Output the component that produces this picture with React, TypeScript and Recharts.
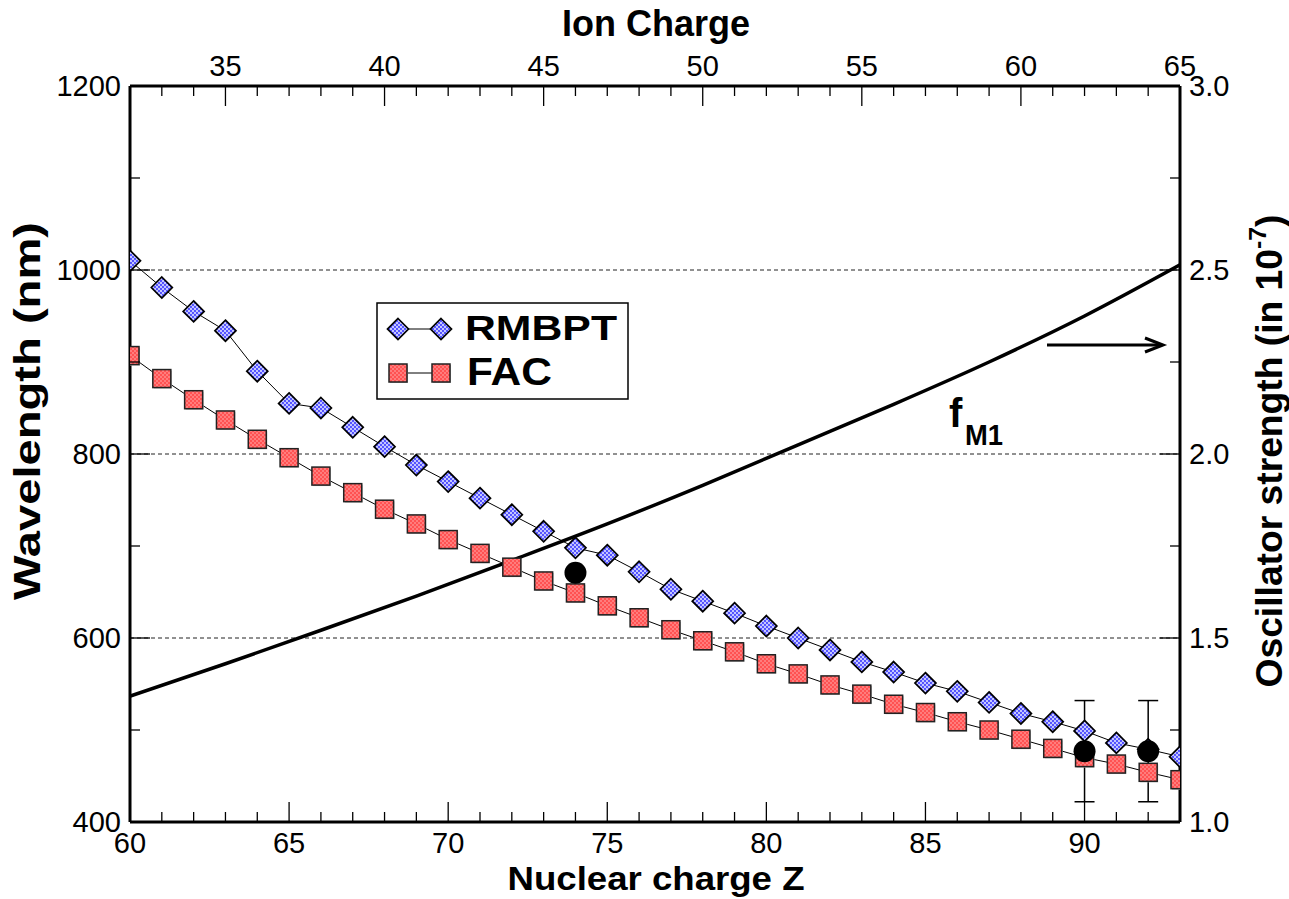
import React from 'react'
import { ComposedChart, Line, Scatter, XAxis, YAxis, ReferenceLine, ErrorBar } from 'recharts'

// nuclear charge Z for the two theory series
const zValues = [
  60, 61, 62, 63, 64, 65, 66, 67, 68, 69, 70, 71, 72, 73, 74, 75, 76,
  77, 78, 79, 80, 81, 82, 83, 84, 85, 86, 87, 88, 89, 90, 91, 92, 93,
]
// wavelength in nm
const rmbptNm = [
  1010, 981, 955, 934, 890, 855, 850, 829, 808, 788, 770, 752, 734, 716, 698, 690, 672,
  653, 640, 627, 613, 600, 587, 574, 563, 551, 542, 530, 518, 509, 499, 486, 479, 471,
]
const facNm = [
  907, 882, 859, 837, 816, 796, 776, 758, 740, 724, 707, 692, 677, 662, 649, 635, 622,
  609, 597, 585, 572, 561, 549, 539, 528, 519, 509, 500, 490, 480, 470, 463, 454, 446,
]
// oscillator strength f_M1 (in 1e-7), plotted against the top (ion charge) axis
const fIonCharge = [32, 35, 38, 41, 44, 47, 50, 53, 56, 59, 62, 65]
const fM1 = [1.342, 1.43, 1.521, 1.614, 1.711, 1.81, 1.915, 2.025, 2.135, 2.25, 2.375, 2.514]
// measurements
const expZ = [74, 90, 92]
const expNm = [671, 477, 477]
const expErr = [0, 55, 55]

const zTicks = [
  60, 61, 62, 63, 64, 65, 66, 67, 68, 69, 70, 71, 72, 73, 74, 75, 76,
  77, 78, 79, 80, 81, 82, 83, 84, 85, 86, 87, 88, 89, 90, 91, 92, 93,
]
const ionTicks = [
  32, 33, 34, 35, 36, 37, 38, 39, 40, 41, 42, 43, 44, 45, 46, 47, 48,
  49, 50, 51, 52, 53, 54, 55, 56, 57, 58, 59, 60, 61, 62, 63, 64, 65,
]
const nmTicks = [400, 500, 600, 700, 800, 900, 1000, 1100, 1200]
const fTicks = [1, 1.25, 1.5, 1.75, 2, 2.25, 2.5, 2.75, 3]
const gridNm = [600, 800, 1000]

const rmbptData = zValues.map((z, i) => ({ z, nm: rmbptNm[i] }))
const facData = zValues.map((z, i) => ({ z, nm: facNm[i] }))
const fData = fIonCharge.map((ion, i) => ({ ion, f: fM1[i] }))
const expPoint = expZ.slice(0, 1).map((z, i) => ({ z, nm: expNm[i] }))
const expBars = expZ.slice(1).map((z, i) => ({ z, nm: expNm[i + 1], err: expErr[i + 1] }))

const FONT = '"Liberation Sans", Arial, Helvetica, sans-serif'
const TICK_FS = 29

const diamondPath = (cx: number, cy: number, r: number) =>
  `M${cx},${cy - r} L${cx + r},${cy} L${cx},${cy + r} L${cx - r},${cy} Z`

const Diamond = ({ cx, cy }: { cx: number; cy: number }) => (
  <path d={diamondPath(cx, cy, 10.5)} fill="url(#blueDots)" stroke="#000" strokeWidth={1.7} />
)

const Square = ({ cx, cy }: { cx: number; cy: number }) => (
  <g>
    <rect x={cx - 8} y={cy - 8} width={18} height={18} fill="#bbb" />
    <rect x={cx - 9} y={cy - 9} width={18} height={18} fill="url(#redDots)" stroke="#222" strokeWidth={1.5} />
  </g>
)

const BottomTick = (props: any) => {
  const { x, y, payload } = props
  const v = payload.value
  const major = v % 5 === 0
  return (
    <g>
      <line x1={x} y1={y} x2={x} y2={y - (major ? 20 : 10)} stroke="#000" strokeWidth={1.3} />
      {major && (
        <text x={x} y={y + 31} textAnchor="middle" fontSize={TICK_FS} fontFamily={FONT} fill="#000">
          {v}
        </text>
      )}
    </g>
  )
}

const TopTick = (props: any) => {
  const { x, y, payload } = props
  const v = payload.value
  const major = v % 5 === 0
  return (
    <g>
      <line x1={x} y1={y} x2={x} y2={y + (major ? 20 : 10)} stroke="#000" strokeWidth={1.3} />
      {major && (
        <text x={x} y={y - 10} textAnchor="middle" fontSize={TICK_FS} fontFamily={FONT} fill="#000">
          {v}
        </text>
      )}
    </g>
  )
}

const LeftTick = (props: any) => {
  const { x, y, payload } = props
  const v = payload.value
  const major = v % 200 === 0
  return (
    <g>
      <line x1={x} y1={y} x2={x + (major ? 20 : 10)} y2={y} stroke="#000" strokeWidth={1.3} />
      {major && (
        <text x={x - 9} y={y + 10} textAnchor="end" fontSize={TICK_FS} fontFamily={FONT} fill="#000">
          {v}
        </text>
      )}
    </g>
  )
}

const RightTick = (props: any) => {
  const { x, y, payload } = props
  const v = payload.value
  const major = Math.abs(v * 2 - Math.round(v * 2)) < 1e-6
  return (
    <g>
      <line x1={x} y1={y} x2={x - (major ? 20 : 10)} y2={y} stroke="#000" strokeWidth={1.3} />
      {major && (
        <text x={x + 9} y={y + 10} textAnchor="start" fontSize={TICK_FS} fontFamily={FONT} fill="#000">
          {v.toFixed(1)}
        </text>
      )}
    </g>
  )
}

const axisLine = { stroke: '#000', strokeWidth: 3 }

export default function App() {
  return (
    <div style={{ position: 'absolute', left: 0, top: 0, width: 1289, height: 899, background: '#fff' }}>
      <ComposedChart width={1289} height={899} margin={{ top: 0, right: 0, bottom: 0, left: 0 }}>
        <XAxis
          dataKey="z"
          type="number"
          domain={[60, 93]}
          ticks={zTicks}
          interval={0}
          height={77}
          tickSize={0}
          tickMargin={0}
          tickLine={false}
          axisLine={axisLine}
          tick={<BottomTick />}
          allowDataOverflow
        />
        <XAxis
          xAxisId="top"
          dataKey="ion"
          orientation="top"
          type="number"
          domain={[32, 65]}
          ticks={ionTicks}
          interval={0}
          height={86}
          tickSize={0}
          tickMargin={0}
          tickLine={false}
          axisLine={axisLine}
          tick={<TopTick />}
          allowDataOverflow
        />
        <YAxis
          type="number"
          domain={[400, 1200]}
          ticks={nmTicks}
          interval={0}
          width={130}
          tickSize={0}
          tickMargin={0}
          tickLine={false}
          axisLine={axisLine}
          tick={<LeftTick />}
          allowDataOverflow
        />
        <YAxis
          yAxisId="right"
          orientation="right"
          type="number"
          domain={[1, 3]}
          ticks={fTicks}
          interval={0}
          width={109}
          tickSize={0}
          tickMargin={0}
          tickLine={false}
          axisLine={axisLine}
          tick={<RightTick />}
          allowDataOverflow
        />
        {gridNm.map((g) => (
          <ReferenceLine key={g} y={g} stroke="#222" strokeWidth={1} strokeDasharray="4 3" />
        ))}
        <Line
          xAxisId="top"
          yAxisId="right"
          data={fData}
          dataKey="f"
          type="monotone"
          stroke="#000"
          strokeWidth={3.5}
          dot={false}
          isAnimationActive={false}
        />
        <Line
          data={rmbptData}
          dataKey="nm"
          type="linear"
          stroke="#000"
          strokeWidth={1}
          dot={(p: any) => <Diamond key={`d${p.index}`} cx={p.cx} cy={p.cy} />}
          isAnimationActive={false}
        />
        <Line
          data={facData}
          dataKey="nm"
          type="linear"
          stroke="#000"
          strokeWidth={1}
          dot={(p: any) => <Square key={`s${p.index}`} cx={p.cx} cy={p.cy} />}
          isAnimationActive={false}
        />
        <Scatter
          data={expBars}
          dataKey="nm"
          fill="#000"
          isAnimationActive={false}
          shape={(p: any) => <circle cx={p.cx} cy={p.cy} r={11} fill="#000" />}
        >
          <ErrorBar dataKey="err" direction="y" width={10} stroke="#000" strokeWidth={1.5} />
        </Scatter>
        <Scatter
          data={expPoint}
          dataKey="nm"
          fill="#000"
          isAnimationActive={false}
          shape={(p: any) => <circle cx={p.cx} cy={p.cy} r={11} fill="#000" />}
        />
      </ComposedChart>

      <svg
        width={1289}
        height={899}
        style={{ position: 'absolute', left: 0, top: 0, pointerEvents: 'none' }}
        fontFamily={FONT}
      >
        <defs>
          <pattern id="blueDots" width="4" height="4" patternUnits="userSpaceOnUse">
            <rect width="4" height="4" fill="#c4c6ff" />
            <circle cx="1" cy="1" r="0.9" fill="#1f1fff" />
            <circle cx="3" cy="3" r="0.9" fill="#1f1fff" />
          </pattern>
          <pattern id="redDots" width="4" height="4" patternUnits="userSpaceOnUse">
            <rect width="4" height="4" fill="#ff5252" />
            <circle cx="1" cy="1" r="0.8" fill="#ffb4b4" />
            <circle cx="3" cy="3" r="0.8" fill="#ffb4b4" />
          </pattern>
        </defs>

        {/* axis titles */}
        <text x={656} y={36} textAnchor="middle" fontSize={36} fontWeight="bold" textLength={188} lengthAdjust="spacingAndGlyphs">
          Ion Charge
        </text>
        <text x={656} y={890} textAnchor="middle" fontSize={33} fontWeight="bold" textLength={297} lengthAdjust="spacingAndGlyphs">
          Nuclear charge Z
        </text>
        <text transform="translate(40,411) rotate(-90)" textAnchor="middle" fontSize={37} fontWeight="bold" textLength={378} lengthAdjust="spacingAndGlyphs">
          Wavelength (nm)
        </text>
        <text transform="translate(1282,451) rotate(-90)" textAnchor="middle" fontSize={36} fontWeight="bold" textLength={473} lengthAdjust="spacingAndGlyphs">
          Oscillator strength (in 10
          <tspan fontSize={24} dy={-16}>-7</tspan>
          <tspan dy={16}>)</tspan>
        </text>

        {/* legend */}
        <rect x={377} y={303} width={251} height={96} fill="#fff" stroke="#000" strokeWidth={1.5} />
        <line x1={398} y1={329} x2={441} y2={329} stroke="#000" strokeWidth={1} />
        <Diamond cx={398} cy={329} />
        <Diamond cx={441} cy={329} />
        <text x={465} y={340} fontSize={35} fontWeight="bold" textLength={152} lengthAdjust="spacingAndGlyphs">
          RMBPT
        </text>
        <line x1={398} y1={373} x2={441} y2={373} stroke="#000" strokeWidth={1} />
        <Square cx={398} cy={373} />
        <Square cx={441} cy={373} />
        <text x={467} y={385} fontSize={38} fontWeight="bold" textLength={85} lengthAdjust="spacingAndGlyphs">
          FAC
        </text>

        {/* f_M1 annotation */}
        <text x={949} y={427} fontSize={40} fontWeight="bold">f</text>
        <text x={965} y={445} fontSize={29} fontWeight="bold" textLength={38} lengthAdjust="spacingAndGlyphs">M1</text>
        <line x1={1047} y1={345} x2={1160} y2={345} stroke="#000" strokeWidth={3} />
        <polyline points="1145,338 1163,345 1145,352" fill="none" stroke="#000" strokeWidth={3} />
      </svg>
    </div>
  )
}
